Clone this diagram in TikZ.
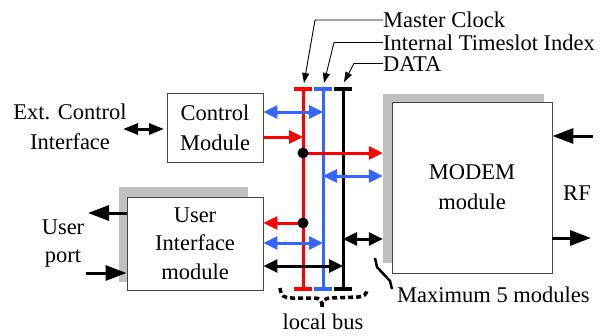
\documentclass[tikz,border=0pt]{standalone}
\usepackage{fontspec}
\setmainfont{Liberation Serif}
\usetikzlibrary{arrows.meta}
\definecolor{busred}{RGB}{255,0,0}
\definecolor{busblue}{RGB}{51,102,255}
\definecolor{shadowgray}{RGB}{192,192,192}
\definecolor{boxline}{RGB}{70,70,70}
\tikzset{
  txt/.style={inner sep=0pt, align=center, font=\fontsize{22.5pt}{30pt}\selectfont},
  lbl/.style={inner sep=0pt, anchor=base west, font=\fontsize{22.5pt}{27pt}\selectfont},
  modbox/.style={draw=boxline, line width=0.9pt, fill=white, inner sep=0pt, align=center,
                 font=\fontsize{22.5pt}{30pt}\selectfont},
  shadowbox/.style={fill=shadowgray, inner sep=0pt},
  busline/.style={line width=3pt},
  buscap/.style={line width=3.5pt},
  busarr/.style={line width=3pt, -{Triangle[length=14pt,width=13pt]}},
  busdarr/.style={line width=3pt, {Triangle[length=14pt,width=13pt]}-{Triangle[length=14pt,width=13pt]}},
  extarr/.style={line width=3pt, -{Triangle[length=21pt,width=15pt]}},
  lead/.style={line width=0.9pt, -{Triangle[length=10pt,width=7pt]}},
  dot/.style={circle, fill=black, inner sep=0pt, minimum size=11pt},
}
\begin{document}
\begin{tikzpicture}[x=1pt,y=-1pt]
\path[use as bounding box] (0,0) rectangle (608,335);

% shadows
\node[shadowbox, minimum width=129pt, minimum height=95pt] (uish) at (183.5,234.5) {};
\node[shadowbox, minimum width=161pt, minimum height=169pt] (modemsh) at (463.5,178.5) {};

% modules
\node[modbox, minimum width=96pt, minimum height=69pt] (ctrl) at (215,127.5) {Control\\Module};
\node[modbox, minimum width=136pt, minimum height=93pt, font=\fontsize{22.5pt}{28.5pt}\selectfont] (ui) at (195,243.5) {User\\Interface\\module};
\node[modbox, minimum width=160pt, minimum height=171pt] (modem) at (472,187.5) {MODEM\\module};

% external texts
\node[txt] (ext) at (70,127) {Ext. Control\\Interface};
\node[txt, font=\fontsize{22.5pt}{28pt}\selectfont] (uport) at (63,244) {User\\port};
\node[txt] (rf) at (577,193) {RF};
\node[lbl] (mc) at (383,27.7) {Master Clock};
\node[lbl] (its) at (383,50.3) {Internal Timeslot Index};
\node[lbl] (data) at (383,71.7) {DATA};
\node[lbl] (max) at (397,302.5) {Maximum 5 modules};
\node[txt] (lbus) at (323,322) {local bus};

% leader anchor points on the label lines
\coordinate (mcL) at (383,20);
\coordinate (itsL) at (383,42.5);
\coordinate (dataL) at (383,63.5);

% bus coordinates
\coordinate (rT) at (303,89);  \coordinate (rB) at (303,289);
\coordinate (bT) at (323,89);  \coordinate (bB) at (323,289);
\coordinate (kT) at (343,89);  \coordinate (kB) at (343,289);

% bus lines
\draw[busline, busred] (rT) -- (rB);
\draw[busline, busblue] (bT) -- (bB);
\draw[busline, black] (kT) -- (kB);
\draw[buscap, busred] ([xshift=-9pt]rT) -- ([xshift=9pt]rT);
\draw[buscap, busred] ([xshift=-9pt]rB) -- ([xshift=9pt]rB);
\draw[buscap, busblue] ([xshift=-9pt]bT) -- ([xshift=9pt]bT);
\draw[buscap, busblue] ([xshift=-9pt]bB) -- ([xshift=9pt]bB);
\draw[buscap, black] ([xshift=-9pt]kT) -- ([xshift=9pt]kT);
\draw[buscap, black] ([xshift=-9pt]kB) -- ([xshift=9pt]kB);

% bus taps
\coordinate (b1) at (323,112);
\coordinate (r1) at (303,137);
\coordinate (r2) at (303,153);
\coordinate (b2) at (323,176);
\coordinate (r3) at (303,223);
\coordinate (k2) at (343,239);
\coordinate (b3) at (323,243);
\coordinate (k1) at (343,266);

\draw[busdarr, busblue] (ctrl.east |- b1) -- (b1);
\draw[busarr, busred] (ctrl.east |- r1) -- (r1);
\draw[busarr, busred] (r2) -- (modemsh.west |- r2);
\draw[busdarr, busblue] (b2) -- (modemsh.west |- b2);
\draw[busarr, busred] (r3) -- (ui.east |- r3);
\draw[busdarr, busblue] (ui.east |- b3) -- (b3);
\draw[busdarr, black] (ui.east |- k1) -- (k1);
\draw[busdarr, black] (k2) -- (modemsh.west |- k2);
\node[dot] (d1) at (r2) {};
\node[dot] (d2) at (r3) {};

% external arrows
\coordinate (extL) at (123,129);
\coordinate (extR) at (164,129);
\draw[line width=3pt, {Triangle[length=15pt,width=11pt]}-{Triangle[length=15pt,width=11pt]}] (extL) -- (extR);
\coordinate (upOut) at (88,213);
\coordinate (upIn) at (86,273);
\draw[extarr] (ui.west |- upOut) -- (upOut);
\draw[extarr] (upIn) -- (ui.west |- upIn);
\coordinate (rfIn) at (593,136);
\coordinate (rfOut) at (591,238);
\draw[extarr] (rfIn) -- (modem.east |- rfIn);
\draw[extarr] (modem.east |- rfOut) -- (rfOut);

% label leaders
\coordinate (mcTip) at (304,83);
\coordinate (itsTip) at (324,83);
\coordinate (dataTip) at (344,82);
\draw[lead] (mcL) -- (315,20) -- (mcTip);
\draw[lead] (itsL) -- (334,42.5) -- (itsTip);
\draw[lead] (dataL) -- (354,63.5) -- (dataTip);

% maximum leader
\draw[line width=2.5pt] (375,258) -- (377,267) -- (390,281) -- (392,289);

% local bus brace
\draw[line width=3.5pt, dash pattern=on 5pt off 3pt]
  (280,288) .. controls (281,296) and (284,298) .. (292,298) -- (314,298)
  .. controls (320,298) and (322,300) .. (322,307);
\draw[line width=3.5pt, dash pattern=on 5pt off 3pt]
  (322,307) .. controls (322,300) and (325,298) .. (331,298) -- (358,297)
  .. controls (364,297) and (367,294) .. (367,289);
\end{tikzpicture}
\end{document}
